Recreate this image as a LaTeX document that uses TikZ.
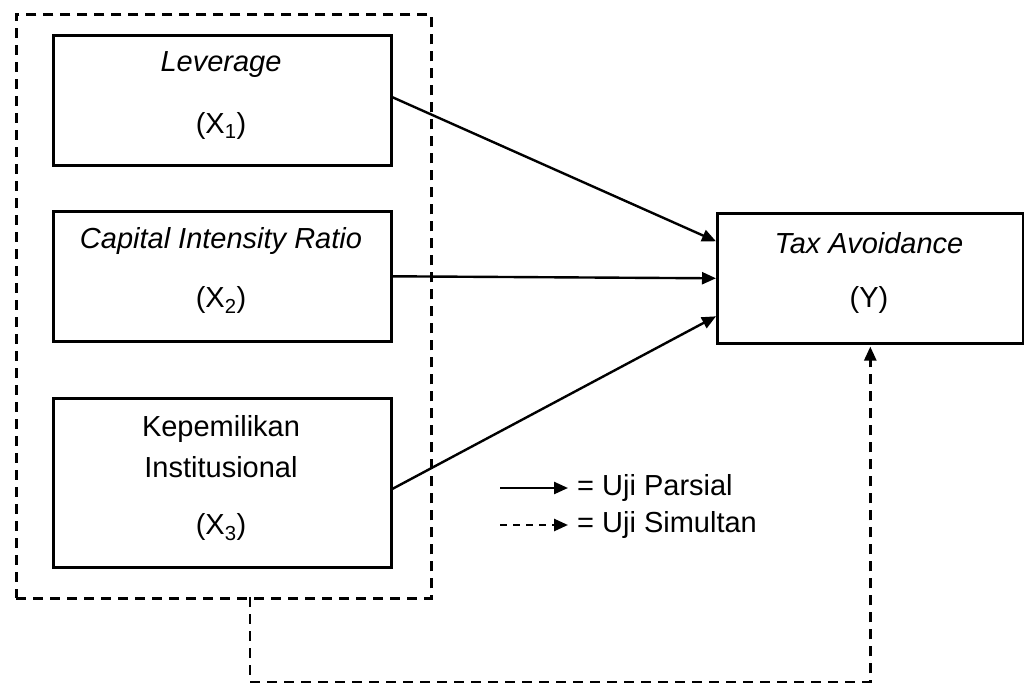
\documentclass[tikz,border=0pt]{standalone}
\usepackage{fontspec}
\setmainfont{Liberation Sans}
\usetikzlibrary{arrows.meta,calc}
\begin{document}
\begin{tikzpicture}[x=1pt,y=-1pt,
  box/.style={draw,line width=2.6pt,inner sep=0pt,anchor=north west},
  lbl/.style={font=\fontsize{29}{34}\selectfont,inner sep=0pt,anchor=center},
  arr/.style={line width=2.4pt,-{Triangle[length=14pt,width=12pt]}},
  dsh/.style={line width=2.6pt,dash pattern=on 10pt off 7pt}]
\useasboundingbox (0,0) rectangle (1024,684);
\node[draw,dsh,inner sep=0pt,anchor=north west,minimum width=415pt,minimum height=584pt] (outer) at (15,13) {};
\node[box,minimum width=338pt,minimum height=130pt] (lev) at (52,34) {};
\node[box,minimum width=338pt,minimum height=130pt] (cap) at (52,210) {};
\node[box,minimum width=338pt,minimum height=169pt] (kep) at (52,397) {};
\node[box,minimum width=306pt,minimum height=130pt] (ty) at (716,212) {};
\node[lbl] (t1) at (221,65) {\itshape Leverage};
\node[lbl] (t1b) at (221,126) {(X\textsubscript{1})};
\node[lbl] (t2) at (221,241) {\itshape Capital Intensity Ratio};
\node[lbl] (t2b) at (221,300) {(X\textsubscript{2})};
\node[lbl] (t3) at (221,429) {Kepemilikan};
\node[lbl] (t3b) at (221,467) {Institusional};
\node[lbl] (t3c) at (221,527) {(X\textsubscript{3})};
\node[lbl] (ty1) at (869,243) {\itshape Tax Avoidance};
\node[lbl] (ty2) at (869,300) {(Y)};
\draw[arr] ([yshift=3pt]lev.east) -- ([yshift=37pt]ty.west);
\draw[arr] (cap.east) -- (ty.west);
\draw[arr] ([yshift=-6pt]kep.east) -- ([yshift=-38pt]ty.west);
\coordinate (s0) at (250,597);
\draw[dsh,-{Triangle[length=14pt,width=12pt]}] (s0) -- (250,682) -- (ty.south |- 0,682) -- ([yshift=-2pt]ty.south);
\coordinate (l1a) at (500,488);
\coordinate (l1b) at (568,488);
\coordinate (l2a) at (500,525);
\coordinate (l2b) at (568,525);
\draw[arr] (l1a) -- (l1b);
\draw[dsh,dash pattern=on 7pt off 6pt,-{Triangle[length=14pt,width=12pt]}] (l2a) -- (l2b);
\node[lbl,anchor=west] (lg1) at (577,488) {= Uji Parsial};
\node[lbl,anchor=west] (lg2) at (577,525) {= Uji Simultan};
\end{tikzpicture}
\end{document}
